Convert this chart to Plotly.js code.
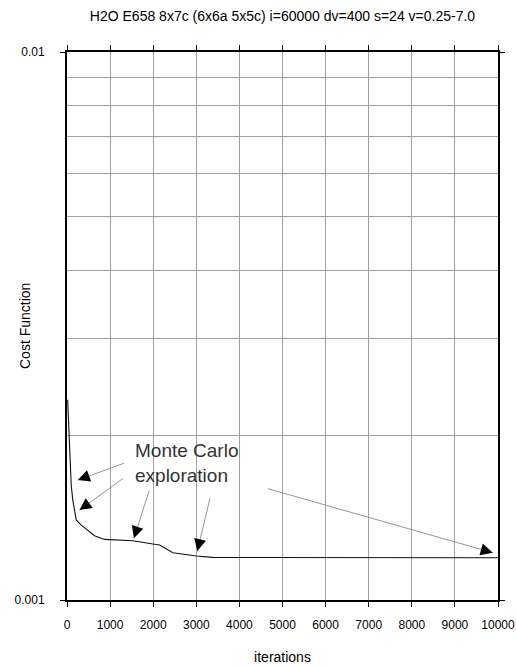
<!DOCTYPE html>
<html>
<head>
<meta charset="utf-8">
<script src="https://cdn.plot.ly/plotly-3.0.1.min.js"></script>
<style>html,body{margin:0;padding:0;background:#fff;}#chart{width:516px;height:666px;}</style>
</head>
<body>
<div id="chart"></div>
<script>
// ---- data ----
const iterations = [15, 35, 58, 74, 98, 135, 174, 214, 330, 483, 639, 871, 1220, 1528, 1993, 2149, 2458, 3001, 3380, 4472, 6005, 10000];
const costFunction = [0.00232, 0.00213, 0.00183, 0.00169, 0.00162, 0.00152, 0.00145, 0.00140, 0.00137, 0.00134, 0.00131, 0.00129, 0.001285, 0.001283, 0.001265, 0.00126, 0.00122, 0.001203, 0.001196, 0.001196, 0.001196, 0.001194];
const xTickVals = [0, 1000, 2000, 3000, 4000, 5000, 6000, 7000, 8000, 9000, 10000];
const xTickText = ['0', '1000', '2000', '3000', '4000', '5000', '6000', '7000', '8000', '9000', '10000'];
const yTickVals = [0.001, 0.01];
const yTickText = ['0.001', '0.01'];
const yMinorVals = [0.002, 0.003, 0.004, 0.005, 0.006, 0.007, 0.008, 0.009];
const chartTitle = 'H2O E658 8x7c (6x6a 5x5c) i=60000 dv=400 s=24 v=0.25-7.0';
const xTitle = 'iterations';
const yTitle = 'Cost Function';
const noteText = 'Monte Carlo<br>exploration';
// arrows: tail and tip points in data units
const arrowTailX = [1359, 1336, 1916, 3326, 4627];
const arrowTailY = [0.001781, 0.001675, 0.001592, 0.001543, 0.001599];
const arrowTipX = [251, 290, 1552, 3024, 9877];
const arrowTipY = [0.001655, 0.001459, 0.001296, 0.001228, 0.001220];

// ---- layout ----
const W = 516, H = 666;
const M = {l: 67, r: 18, t: 52, b: 66};
const plotW = W - M.l - M.r, plotH = H - M.t - M.b;
const pxPerX = plotW / 10000, pxPerDecade = plotH / 1;
const FONT = 'Arial, "Liberation Sans", sans-serif';

const annotations = [];
// gray shafts
for (let i = 0; i < arrowTipX.length; i++) {
  annotations.push({
    x: arrowTipX[i], y: Math.log10(arrowTipY[i]), xref: 'x', yref: 'y',
    ax: arrowTailX[i], ay: Math.log10(arrowTailY[i]), axref: 'x', ayref: 'y',
    showarrow: true, arrowhead: 0, arrowwidth: 0.9, arrowcolor: '#8a8a8a',
    text: '', standoff: 0, startstandoff: 0
  });
}
// black heads
for (let i = 0; i < arrowTipX.length; i++) {
  const dx = (arrowTailX[i] - arrowTipX[i]) * pxPerX;
  const dy = -(Math.log10(arrowTailY[i]) - Math.log10(arrowTipY[i])) * pxPerDecade;
  const len = Math.sqrt(dx * dx + dy * dy);
  annotations.push({
    x: arrowTipX[i], y: Math.log10(arrowTipY[i]), xref: 'x', yref: 'y',
    ax: dx / len * 13, ay: dy / len * 13,
    showarrow: true, arrowhead: 2, arrowsize: 2.4, arrowwidth: 1, arrowcolor: '#000',
    text: '', standoff: 0
  });
}
// note text
annotations.push({
  x: 1520, y: Math.log10(0.001778), xref: 'x', yref: 'y',
  xanchor: 'left', yanchor: 'middle', align: 'left', showarrow: false,
  text: noteText, font: {family: FONT, size: 19, color: '#333'}
});
// y axis title
annotations.push({
  x: (25 - M.l) / plotW, y: 1 - (326 - M.t) / plotH, xref: 'paper', yref: 'paper',
  xanchor: 'center', yanchor: 'middle', textangle: -90, showarrow: false,
  text: yTitle, font: {family: FONT, size: 14, color: '#000'}
});

const trace = {
  x: iterations, y: costFunction, type: 'scatter', mode: 'lines',
  line: {color: '#111', width: 1.1}, hoverinfo: 'skip', showlegend: false
};

const layout = {
  width: W, height: H,
  margin: M,
  paper_bgcolor: '#fff', plot_bgcolor: '#fff',
  font: {family: FONT, color: '#000', size: 12},
  title: {text: chartTitle, font: {family: FONT, size: 14, color: '#000'},
          x: 0.5, xref: 'paper', y: 1 - 16 / H, yref: 'container', yanchor: 'middle', xanchor: 'center'},
  xaxis: {
    range: [0, 10000], tickmode: 'array', tickvals: xTickVals, ticktext: xTickText,
    ticks: 'outside', ticklen: 5, tickwidth: 1, tickcolor: '#000',
    showline: true, linewidth: 2, linecolor: '#000', mirror: 'ticks',
    showgrid: true, gridcolor: '#a0a0a0', gridwidth: 1, zeroline: false,
    tickfont: {family: FONT, size: 12, color: '#000'}, ticklabelstandoff: 8,
    title: {text: xTitle, font: {family: FONT, size: 14, color: '#000'}, standoff: 21}
  },
  yaxis: {
    type: 'log', range: [-3, -2], tickmode: 'array', tickvals: yTickVals, ticktext: yTickText,
    ticks: 'outside', ticklen: 5, tickwidth: 1, tickcolor: '#000',
    showline: true, linewidth: 2, linecolor: '#000', mirror: 'ticks',
    showgrid: false, zeroline: false,
    minor: {tickmode: 'array', tickvals: yMinorVals, ticks: '', showgrid: true, gridcolor: '#a0a0a0', gridwidth: 1},
    tickfont: {family: FONT, size: 12, color: '#000'}, ticklabelstandoff: 13
  },
  annotations: annotations
};

Plotly.newPlot('chart', [trace], layout, {staticPlot: true, displayModeBar: false});
</script>
</body>
</html>
